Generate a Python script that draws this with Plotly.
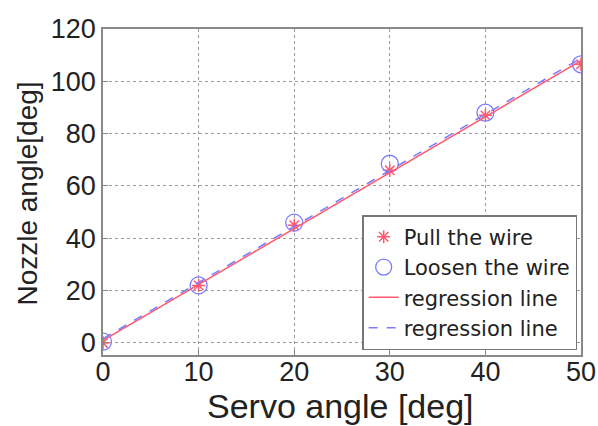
import numpy as np
import plotly.graph_objects as go

servo = [0, 10, 20, 30, 40, 50]
pull = [0, 22, 45, 66, 87, 106.5]
loosen = [0.5, 22, 46, 68.5, 88, 106.5]
x_ticks = [0, 10, 20, 30, 40, 50]
y_ticks = [0, 20, 40, 60, 80, 100, 120]

xs = np.array(servo, dtype=float)
p_fit = np.polyfit(xs, pull, 1)
l_fit = np.polyfit(xs, loosen, 1)
x_line = [0, 50]
pull_line = [float(np.polyval(p_fit, v)) for v in x_line]
loosen_line = [float(np.polyval(l_fit, v)) for v in x_line]

FONT = "Liberation Sans, Arial, sans-serif"
LFONT = "DejaVu Sans, sans-serif"
RED = "#ff5a6e"
BLUE = "#7a7aff"
TXT = "#222222"

fig = go.Figure()
fig.add_trace(go.Scatter(x=servo, y=pull, mode="markers", name="Pull the wire",
                         marker=dict(symbol="asterisk-open", size=11, color=RED,
                                     line=dict(color=RED, width=1.5))))
fig.add_trace(go.Scatter(x=servo, y=loosen, mode="markers", name="Loosen the wire",
                         marker=dict(symbol="circle-open", size=17, color=BLUE,
                                     line=dict(color=BLUE, width=1.3))))
fig.add_trace(go.Scatter(x=x_line, y=pull_line, mode="lines", name="regression line",
                         line=dict(color=RED, width=1.5)))
fig.add_trace(go.Scatter(x=x_line, y=loosen_line, mode="lines", name="regression line ",
                         line=dict(color=BLUE, width=1.5, dash="dash")))

axis_common = dict(showline=True, mirror=True, linecolor="#888888", linewidth=1.5,
                   showgrid=True, gridcolor="#9a9a9a", griddash="dot", gridwidth=1,
                   ticks="inside", ticklen=5, tickcolor="#888888",
                   tickfont=dict(family=FONT, size=27, color=TXT),
                   zeroline=False, automargin=False)

fig.update_layout(
    width=598, height=426,
    paper_bgcolor="white", plot_bgcolor="white",
    margin=dict(l=103, r=17, t=29, b=71, autoexpand=False),
    showlegend=True,
    legend=dict(x=0.992, y=0.015, xanchor="right", yanchor="bottom",
                bgcolor="white", bordercolor="#777777", borderwidth=1.5,
                font=dict(family=LFONT, size=21, color=TXT),
                tracegroupgap=0, itemwidth=30),
    xaxis=dict(range=[0, 50], tickvals=x_ticks, ticktext=[str(v) for v in x_ticks],
               ticklabelstandoff=-8, **axis_common),
    yaxis=dict(range=[-4.6, 120], tickvals=y_ticks, ticktext=[str(v) for v in y_ticks],
               ticklabelstandoff=0, **axis_common),
    annotations=[
        dict(text="Servo angle [deg]", xref="paper", yref="paper", x=0.497, y=-0.222,
             xanchor="center", yanchor="bottom", showarrow=False,
             font=dict(family=FONT, size=34, color=TXT)),
        dict(text="Nozzle angle[deg]", xref="paper", yref="paper", x=-0.157, y=0.495,
             xanchor="center", yanchor="middle", showarrow=False, textangle=-90,
             font=dict(family=FONT, size=28, color=TXT)),
    ],
)
fig.write_html("out.html", config={"displayModeBar": False},
               post_script="document.body.style.margin='0';document.body.style.overflow='hidden';")
